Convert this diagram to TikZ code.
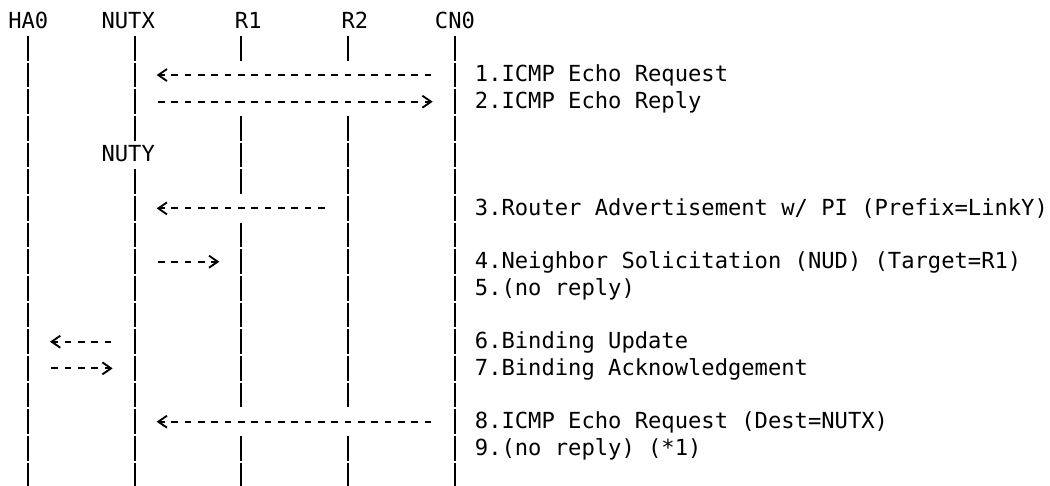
\documentclass[tikz,border=0pt]{standalone}
\usepackage{fontspec}
\setmonofont{DejaVu Sans Mono}
\usetikzlibrary{arrows.meta}

\begin{document}
\begin{tikzpicture}[
    x=10pt, y=-20pt,
    txt/.style={font=\ttfamily\fontsize{16.6}{20}\selectfont, anchor=west, inner sep=0pt, text height=15.05pt, text depth=4.95pt},
    life/.style={line width=1.4pt, dash pattern=on 18.5pt off 1.5pt},
    msg/.style={line width=1.4pt, dash pattern=on 5pt off 5pt, shorten <=17.5pt, shorten >=16.5pt, -{Straight Barb[length=6.5pt, width=9pt]}}
  ]
  \useasboundingbox (-1.1,-0.814) rectangle (77.65,17.41);

  % nodes on top
  \node[txt] (ha0) at (-0.5,0) {HA0};
  \node[txt] (nutx) at (6.5,0) {NUTX};
  \node[txt] (r1) at (16.5,0) {R1};
  \node[txt] (r2) at (24.5,0) {R2};
  \node[txt] (cn0) at (31.5,0) {CN0};
  \node[txt] (nuty) at (6.5,5) {NUTY};

  \coordinate (ha0line) at (1,0);
  \coordinate (nutxline) at (9,0);
  \coordinate (r1line) at (17,0);
  \coordinate (r2line) at (25,0);
  \coordinate (cn0line) at (33,0);

  % lifelines, broken where a message crosses
  \foreach \x/\rows in {1/{1/17}, 9/{1/4,6/17}, 17/{1/1,4/6,8/14,16/17}, 25/{1/1,4/14,16/17}, 33/{1/17}}
    \foreach \a/\b in \rows
      \draw[life] (\x,\a-0.4625) -- (\x,\b+0.4625);

  % messages
  \node[txt] (m1) at (34.5,2) {1.ICMP Echo Request};
  \node[txt] (m2) at (34.5,3) {2.ICMP Echo Reply};
  \node[txt] (m3) at (34.5,7) {3.Router Advertisement w/ PI (Prefix=LinkY)};
  \node[txt] (m4) at (34.5,9) {4.Neighbor Solicitation (NUD) (Target=R1)};
  \node[txt] (m5) at (34.5,10) {5.(no reply)};
  \node[txt] (m6) at (34.5,12) {6.Binding Update};
  \node[txt] (m7) at (34.5,13) {7.Binding Acknowledgement};
  \node[txt] (m8) at (34.5,15) {8.ICMP Echo Request (Dest=NUTX)};
  \node[txt] (m9) at (34.5,16) {9.(no reply) (*1)};

  \draw[msg] (cn0line |- m1) -- (nutxline |- m1);
  \draw[msg] (nutxline |- m2) -- (cn0line |- m2);
  \draw[msg] (r2line |- m3) -- (nutxline |- m3);
  \draw[msg] (nutxline |- m4) -- (r1line |- m4);
  \draw[msg] (nutxline |- m6) -- (ha0line |- m6);
  \draw[msg] (ha0line |- m7) -- (nutxline |- m7);
  \draw[msg] (cn0line |- m8) -- (nutxline |- m8);
\end{tikzpicture}
\end{document}
